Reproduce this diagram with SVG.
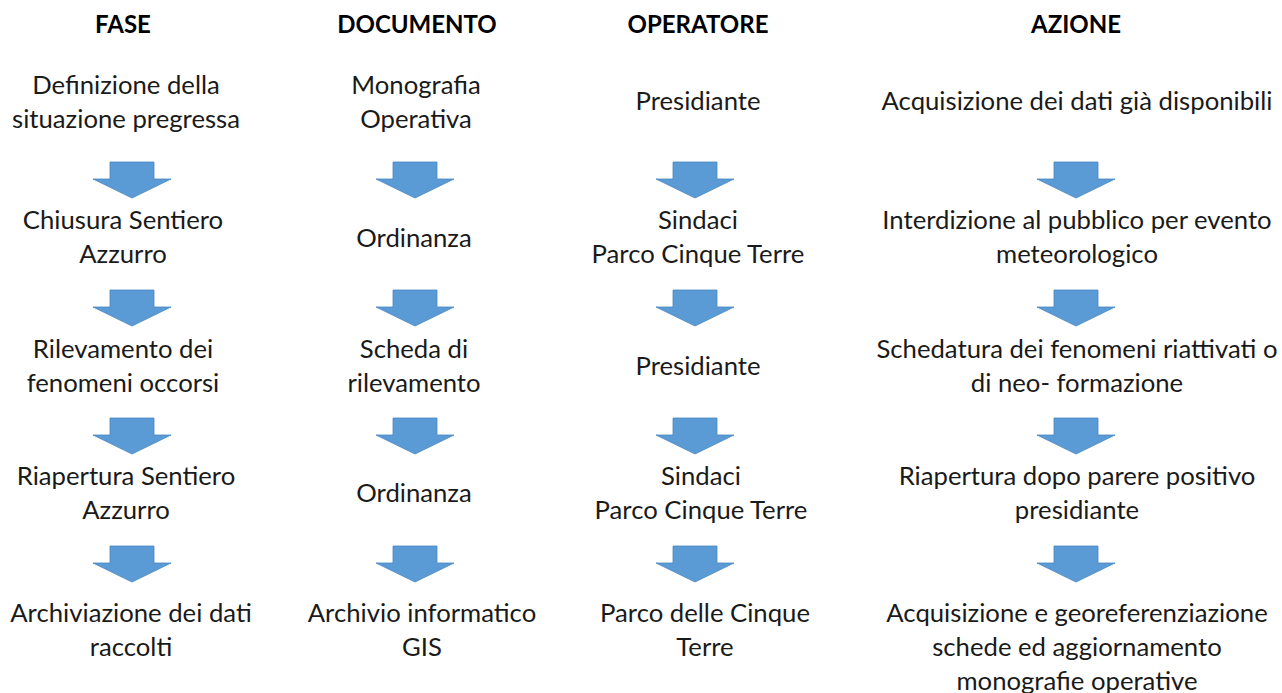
<svg xmlns="http://www.w3.org/2000/svg" width="1282" height="693" viewBox="0 0 1282 693">
<defs>
<style>
.t{font-family:Lato,"Liberation Sans",sans-serif;font-size:25.7px;fill:#1a1a1a;text-anchor:middle}
.h{font-family:Lato,"Liberation Sans",sans-serif;font-size:24px;font-weight:bold;fill:#000;text-anchor:middle}
.a{fill:#5B9BD5;stroke:#4A86C0;stroke-width:0.8}
</style>
<path id="arr" d="M-22,0 H22 V17 H39 L0,36 L-39,17 H-22 Z"/>
</defs>
<rect width="1282" height="693" fill="#fff"/>
<g id="headers">
<text class="h" x="123" y="33">FASE</text>
<text class="h" x="417" y="33">DOCUMENTO</text>
<text class="h" x="698" y="33">OPERATORE</text>
<text class="h" x="1076" y="33">AZIONE</text>
</g>
<g id="fase">
<g id="f1"><text class="t" x="126" y="94">Definizione della</text><text class="t" x="126" y="128">situazione pregressa</text></g>
<g id="f2"><text class="t" x="123" y="229">Chiusura Sentiero</text><text class="t" x="123" y="263">Azzurro</text></g>
<g id="f3"><text class="t" x="123" y="358">Rilevamento dei</text><text class="t" x="123" y="392">fenomeni occorsi</text></g>
<g id="f4"><text class="t" x="126" y="485">Riapertura Sentiero</text><text class="t" x="126" y="519">Azzurro</text></g>
<g id="f5"><text class="t" x="131" y="622">Archiviazione dei dati</text><text class="t" x="131" y="656">raccolti</text></g>
</g>
<g id="documento">
<g id="d1"><text class="t" x="416" y="94">Monografia</text><text class="t" x="416" y="128">Operativa</text></g>
<g id="d2"><text class="t" x="414" y="247">Ordinanza</text></g>
<g id="d3"><text class="t" x="414" y="358">Scheda di</text><text class="t" x="414" y="392">rilevamento</text></g>
<g id="d4"><text class="t" x="414" y="502">Ordinanza</text></g>
<g id="d5"><text class="t" x="422" y="622">Archivio informatico</text><text class="t" x="422" y="656">GIS</text></g>
</g>
<g id="operatore">
<g id="o1"><text class="t" x="698" y="110">Presidiante</text></g>
<g id="o2"><text class="t" x="698" y="229">Sindaci</text><text class="t" x="698" y="263">Parco Cinque Terre</text></g>
<g id="o3"><text class="t" x="698" y="375">Presidiante</text></g>
<g id="o4"><text class="t" x="701" y="485">Sindaci</text><text class="t" x="701" y="519">Parco Cinque Terre</text></g>
<g id="o5"><text class="t" x="705" y="622">Parco delle Cinque</text><text class="t" x="705" y="656">Terre</text></g>
</g>
<g id="azione">
<g id="z1"><text class="t" x="1077" y="110">Acquisizione dei dati già disponibili</text></g>
<g id="z2"><text class="t" x="1077" y="229">Interdizione al pubblico per evento</text><text class="t" x="1077" y="263">meteorologico</text></g>
<g id="z3"><text class="t" x="1077" y="358">Schedatura dei fenomeni riattivati o</text><text class="t" x="1077" y="392">di neo- formazione</text></g>
<g id="z4"><text class="t" x="1077" y="485">Riapertura dopo parere positivo</text><text class="t" x="1077" y="519">presidiante</text></g>
<g id="z5"><text class="t" x="1077" y="622">Acquisizione e georeferenziazione</text><text class="t" x="1077" y="656">schede ed aggiornamento</text><text class="t" x="1077" y="690">monografie operative</text></g>
</g>
<g id="connectors">
<use href="#arr" class="a" x="132" y="162"/>
<use href="#arr" class="a" x="132" y="290"/>
<use href="#arr" class="a" x="132" y="418"/>
<use href="#arr" class="a" x="132" y="546"/>
<use href="#arr" class="a" x="415" y="162"/>
<use href="#arr" class="a" x="415" y="290"/>
<use href="#arr" class="a" x="415" y="418"/>
<use href="#arr" class="a" x="415" y="546"/>
<use href="#arr" class="a" x="695" y="162"/>
<use href="#arr" class="a" x="695" y="290"/>
<use href="#arr" class="a" x="695" y="418"/>
<use href="#arr" class="a" x="695" y="546"/>
<use href="#arr" class="a" x="1076" y="162"/>
<use href="#arr" class="a" x="1076" y="290"/>
<use href="#arr" class="a" x="1076" y="418"/>
<use href="#arr" class="a" x="1076" y="546"/>
</g>
</svg>
